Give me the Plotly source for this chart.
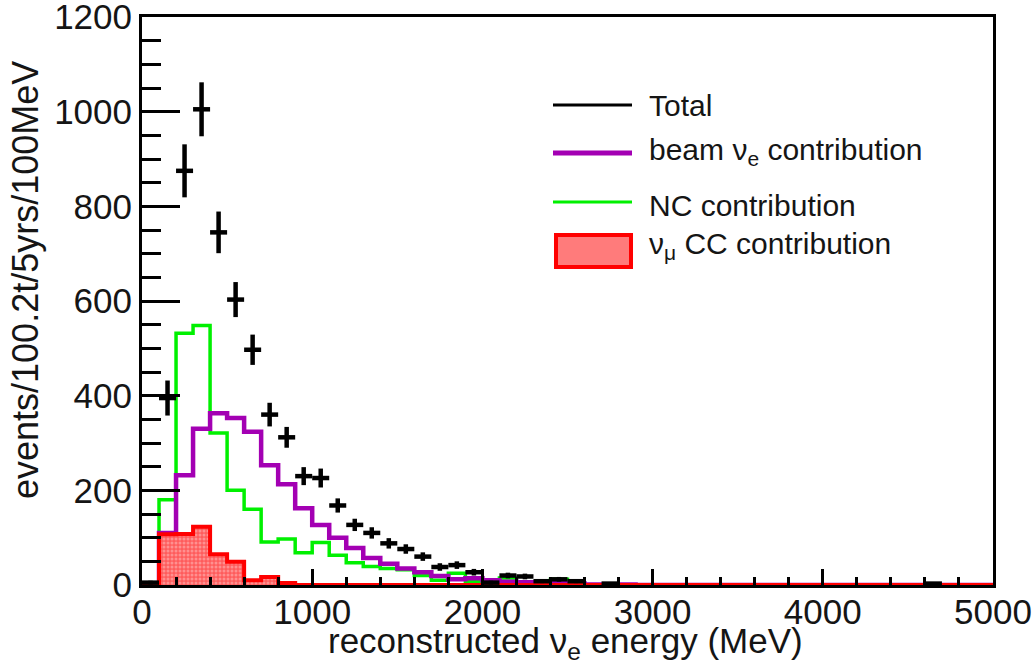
import plotly.graph_objects as go

# ---------------- data (bins of 100 MeV, 0 .. 5000 MeV) ----------------
bin_edges = list(range(0, 5100, 100))
bin_centers = [e + 50 for e in bin_edges[:-1]]

total = [5, 395, 875, 1005, 745, 603, 497, 360, 312, 230,
         226, 168, 127, 110, 88, 76, 60, 38, 42, 27,
         5, 20, 18, 8, 12, 8, None, 3, None, None,
         None, None, None, None, None, None, None, None, None, None,
         None, None, None, None, None, None, 3, None, None, None]
total_err = [4, 37, 56, 57, 44, 37, 32, 25, 22, 19,
             20, 15, 13, 12, 11, 10, 9, 8, 8, 7,
             4, 6, 6, 4, 5, 4, 0, 3, 0, 0,
             0, 0, 0, 0, 0, 0, 0, 0, 0, 0,
             0, 0, 0, 0, 0, 0, 3, 0, 0, 0]

beam_nue = [0, 110, 232, 330, 363, 353, 324, 253, 213, 162,
            127, 100, 78, 57, 45, 35, 27, 19, 12, 14,
            10, 7, 6, 4, 4, 3, 1, 1, 1, 0,
            0, 0, 0, 0, 0, 0, 0, 0, 0, 0,
            0, 0, 0, 0, 0, 0, 0, 0, 0, 0]

nc = [0, 180, 532, 548, 321, 200, 160, 91, 97, 68,
      90, 63, 47, 39, 35, 32, 20, 10, 25, 8,
      3, 15, 4, 2, 12, 3, 0, 0, 0, 0,
      0, 0, 0, 0, 0, 0, 0, 0, 0, 0,
      0, 0, 0, 0, 0, 0, 0, 0, 0, 0]

numu_cc = [3, 107, 108, 123, 65, 49, 10, 17, 4, 0,
           0, 0, 0, 0, 0, 0, 0, 0, 0, 0,
           0, 0, 0, 0, 0, 0, 0, 0, 0, 0,
           0, 0, 0, 0, 0, 0, 0, 0, 0, 0,
           0, 0, 0, 0, 0, 0, 0, 0, 0, 0]

x_title = "reconstructed \u03bd<sub>e</sub> energy (MeV)"
y_title = "events/100.2t/5yrs/100MeV"
legend_labels = ["Total", "beam \u03bd<sub>e</sub> contribution",
                 "NC contribution", "\u03bd<sub>\u03bc</sub> CC contribution"]

GREEN = "#00f000"
PURPLE = "#a300b3"
RED = "#ff0000"
FONT = "Liberation Sans, Arial, sans-serif"
TXT = "#151515"


def step(vals):
    return vals + [vals[-1]]


fig = go.Figure()

fig.add_trace(go.Scatter(x=bin_edges, y=step(nc), mode="lines", line_shape="hv",
                         line=dict(color=GREEN, width=3.5), showlegend=False))
fig.add_trace(go.Scatter(x=bin_edges, y=step(beam_nue), mode="lines", line_shape="hv",
                         line=dict(color=PURPLE, width=4.5), showlegend=False))
fig.add_trace(go.Scatter(x=bin_edges, y=step(numu_cc), mode="lines", line_shape="hv",
                         line=dict(color=RED, width=4), fill="tozeroy",
                         fillcolor="#ff6b6b",
                         fillpattern=dict(shape=".", bgcolor="#ff5c5c", fgcolor="#ffc4c4",
                                          size=4, solidity=0.45),
                         showlegend=False))
fig.add_trace(go.Scatter(x=bin_centers, y=total, mode="markers",
                         marker=dict(size=1, color="black"),
                         error_x=dict(type="constant", value=50, thickness=4.5, width=0, color="black"),
                         error_y=dict(type="data", array=total_err, thickness=4.5, width=0, color="black"),
                         showlegend=False))

# ---------------- manual legend (paper coordinates) ----------------
L, R, T, B = 142, 993, 17, 585
W, H = R - L, B - T


def px(x):
    return (x - L) / W


def py(y):
    return (B - y) / H


shapes = [
    dict(type="line", xref="paper", yref="paper", x0=px(553), x1=px(632), y0=py(105), y1=py(105),
         line=dict(color="black", width=3)),
    dict(type="line", xref="paper", yref="paper", x0=px(553), x1=px(632), y0=py(153), y1=py(153),
         line=dict(color=PURPLE, width=5)),
    dict(type="line", xref="paper", yref="paper", x0=px(553), x1=px(632), y0=py(202), y1=py(202),
         line=dict(color=GREEN, width=3)),
    dict(type="rect", xref="paper", yref="paper", x0=px(556), x1=px(631), y0=py(267), y1=py(235),
         line=dict(color=RED, width=4), fillcolor="#ff7b7b"),
]
annotations = []
for lab, yy in zip(legend_labels, [106, 151, 205, 246]):
    annotations.append(dict(text=lab, xref="paper", yref="paper", x=px(647), y=py(yy),
                            xanchor="left", yanchor="middle", showarrow=False,
                            font=dict(family=FONT, size=30, color=TXT)))

annotations.append(dict(text=x_title, xref="paper", yref="paper", x=px(565), y=py(643),
                        xanchor="center", yanchor="middle", showarrow=False,
                        font=dict(family=FONT, size=35, color=TXT)))
annotations.append(dict(text=y_title, xref="paper", yref="paper", x=px(25), y=py(280),
                        xanchor="center", yanchor="middle", showarrow=False, textangle=-90,
                        font=dict(family=FONT, size=36, color=TXT)))

fig.update_layout(
    width=1035, height=668,
    margin=dict(l=L, r=1035 - R, t=T, b=668 - B, autoexpand=False),
    paper_bgcolor="white", plot_bgcolor="white",
    shapes=shapes, annotations=annotations,
    showlegend=False,
    font=dict(family=FONT, size=35, color=TXT),
)
fig.update_xaxes(range=[0, 5000], tickvals=[0, 1000, 2000, 3000, 4000, 5000],
                 ticks="inside", ticklen=16, tickwidth=3, tickcolor="black",
                 minor=dict(dtick=200, ticks="inside", ticklen=8, tickwidth=3, tickcolor="black"),
                 showline=True, linewidth=3, linecolor="black", mirror=True,
                 showgrid=False, zeroline=False, automargin=False, ticklabeloverflow="allow",
                 ticklabelstandoff=-6,
                 tickfont=dict(family=FONT, size=35, color=TXT))
fig.update_yaxes(range=[0, 1200], tickvals=[0, 200, 400, 600, 800, 1000, 1200],
                 ticks="inside", ticklen=38, tickwidth=3, tickcolor="black",
                 minor=dict(dtick=50, ticks="inside", ticklen=19, tickwidth=3, tickcolor="black"),
                 showline=True, linewidth=3, linecolor="black", mirror=True,
                 showgrid=False, zeroline=False, automargin=False, ticklabeloverflow="allow",
                 tickfont=dict(family=FONT, size=35, color=TXT))

fig.write_html("out.html")
